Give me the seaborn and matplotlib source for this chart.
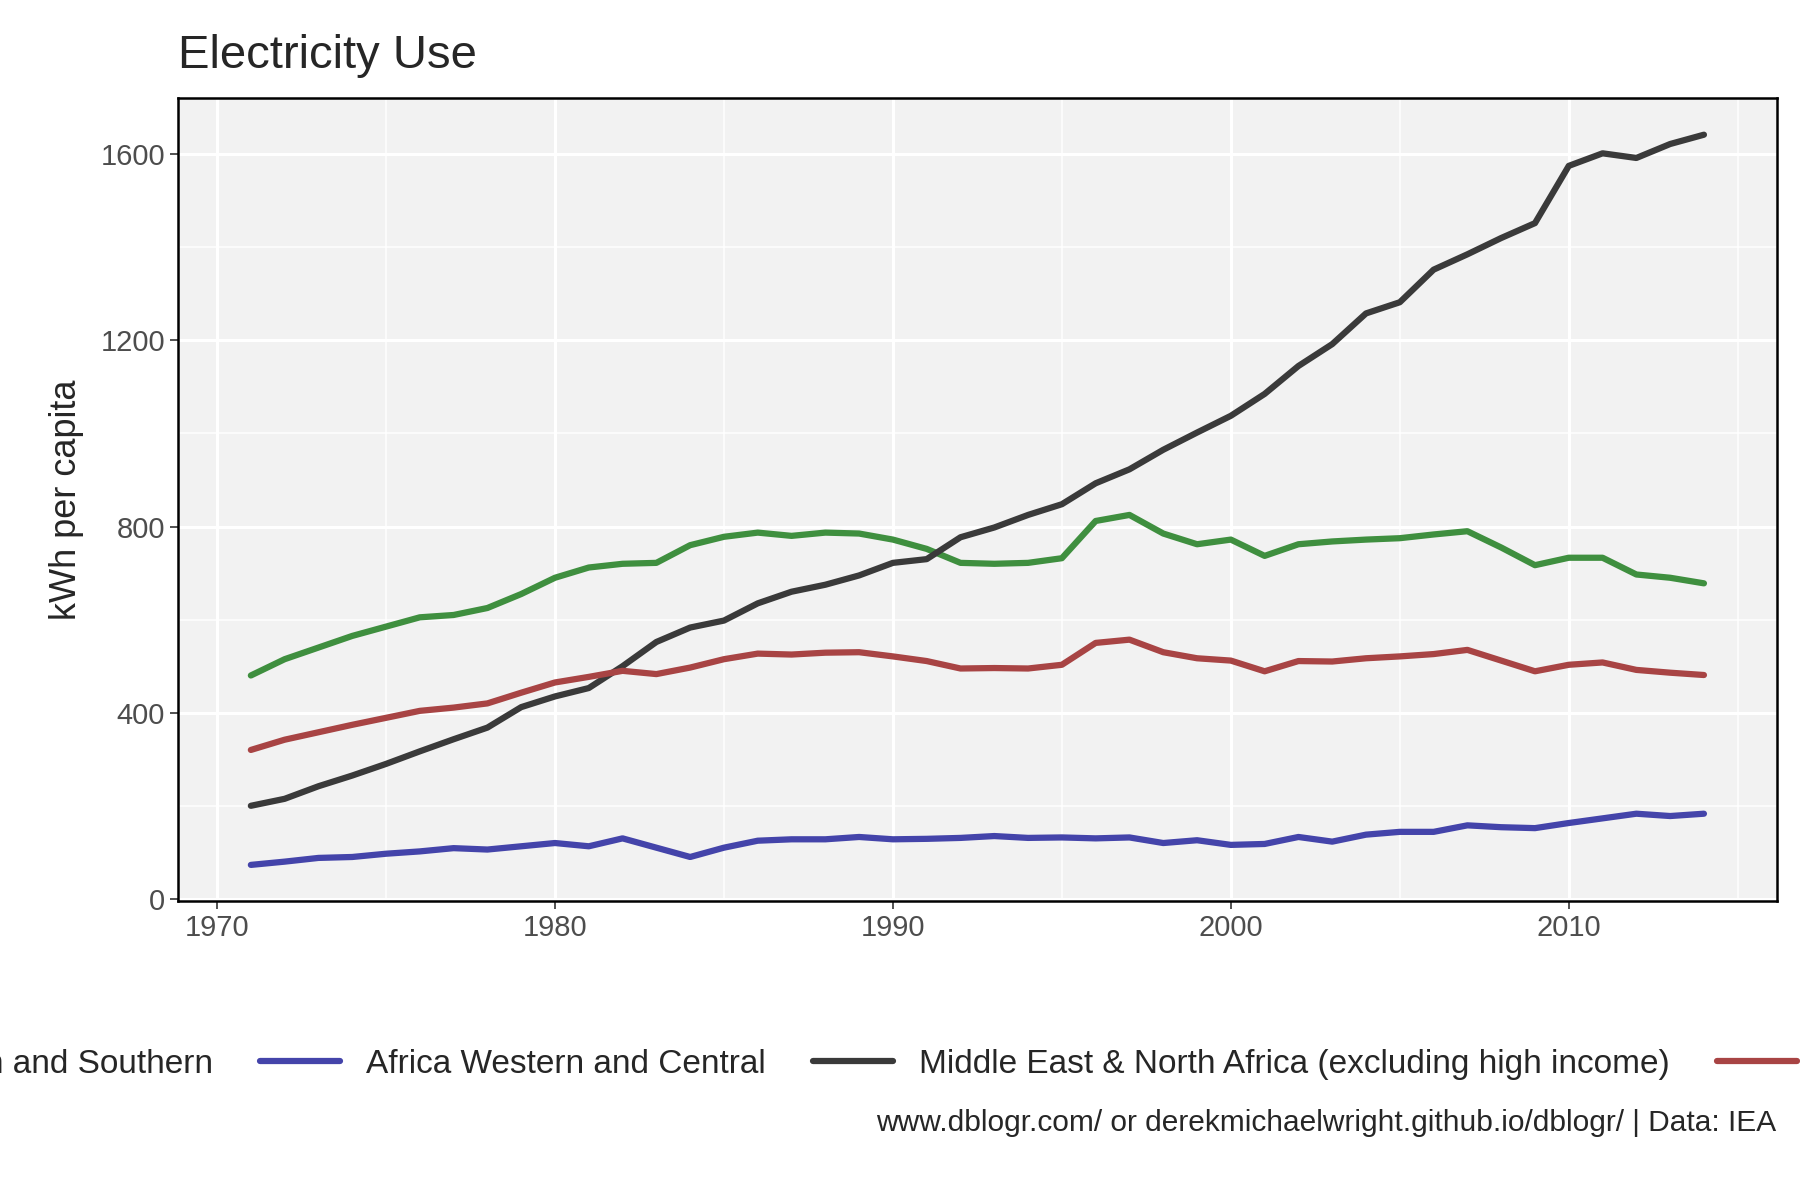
import numpy as np
import pandas as pd
import matplotlib.pyplot as plt
import seaborn as sns
from matplotlib.ticker import MultipleLocator

years = list(range(1971, 2015))
east_south = [480, 515, 540, 565, 585, 605, 610, 625, 655, 690, 712, 720, 722, 760, 778, 787, 780, 787, 785, 772,
              752, 722, 720, 722, 732, 812, 825, 785, 762, 772, 737, 762, 768, 772, 775, 783, 790, 755, 717, 733,
              733, 697, 690, 678]
west_central = [73, 80, 88, 90, 97, 102, 109, 106, 113, 120, 113, 130, 110, 90, 110, 125, 128, 128, 133, 128,
                129, 131, 135, 131, 132, 130, 132, 120, 126, 116, 118, 133, 123, 138, 144, 144, 158, 154, 152, 163,
                173, 183, 178, 183]
mena = [200, 215, 242, 265, 290, 317, 343, 368, 412, 435, 453, 500, 552, 583, 598, 635, 660, 675, 695, 722,
        730, 777, 798, 825, 848, 893, 923, 965, 1002, 1038, 1085, 1145, 1192, 1258, 1282, 1352, 1385, 1420, 1452, 1575,
        1602, 1592, 1622, 1642]
ssa = [320, 342, 358, 374, 389, 404, 411, 420, 443, 465, 477, 490, 483, 497, 515, 527, 525, 529, 530, 521,
       511, 495, 496, 495, 503, 550, 557, 530, 517, 512, 489, 511, 510, 517, 521, 526, 535, 512, 489, 503,
       508, 492, 486, 481]

regions = ["Africa Eastern and Southern", "Africa Western and Central",
           "Middle East & North Africa (excluding high income)", "Sub-Saharan Africa"]
colors = ["#3f8f3f", "#4444aa", "#3a3a3a", "#a84444"]

df = pd.DataFrame({"year": years * 4,
                   "value": east_south + west_central + mena + ssa,
                   "region": np.repeat(regions, len(years))})

sns.set_style("white")
plt.rcParams['font.family'] = ['Liberation Sans', 'DejaVu Sans']
fig = plt.figure(figsize=(18, 12), dpi=100)
ax = fig.add_axes([0.099, 0.249, 0.888, 0.669])
ax.set_facecolor("#F2F2F2")
sns.lineplot(data=df, x="year", y="value", hue="region", palette=colors, linewidth=4.5, ax=ax)

ax.set_xlim(1968.85, 2016.15)
ax.set_ylim(-5, 1720)
ax.xaxis.set_major_locator(MultipleLocator(10))
ax.xaxis.set_minor_locator(MultipleLocator(5))
ax.yaxis.set_major_locator(MultipleLocator(400))
ax.yaxis.set_minor_locator(MultipleLocator(200))
ax.grid(which="major", color="white", linewidth=2.2)
ax.grid(which="minor", color="white", linewidth=1.1)
ax.set_axisbelow(True)
for s in ax.spines.values():
    s.set_color("black")
    s.set_linewidth(1.8)
ax.tick_params(which="major", length=6, width=1.2, color="#333333", labelsize=21, labelcolor="#4d4d4d",
               bottom=True, left=True)
ax.tick_params(which="minor", length=0)
ax.set_xlabel("")
ax.set_ylabel("kWh per capita", fontsize=26, labelpad=12)
ax.set_title("Electricity Use", fontsize=34, loc="left", pad=22)

ax.legend(loc="center", bbox_to_anchor=(0.5, 0.113), bbox_transform=fig.transFigure, ncol=4,
          frameon=False, fontsize=24, handlelength=2.4, columnspacing=1.4, title=None)
fig.text(0.987, 0.064, "www.dblogr.com/ or derekmichaelwright.github.io/dblogr/ | Data: IEA",
         ha="right", va="center", fontsize=21.5)
fig.savefig("out.png", dpi=100)
